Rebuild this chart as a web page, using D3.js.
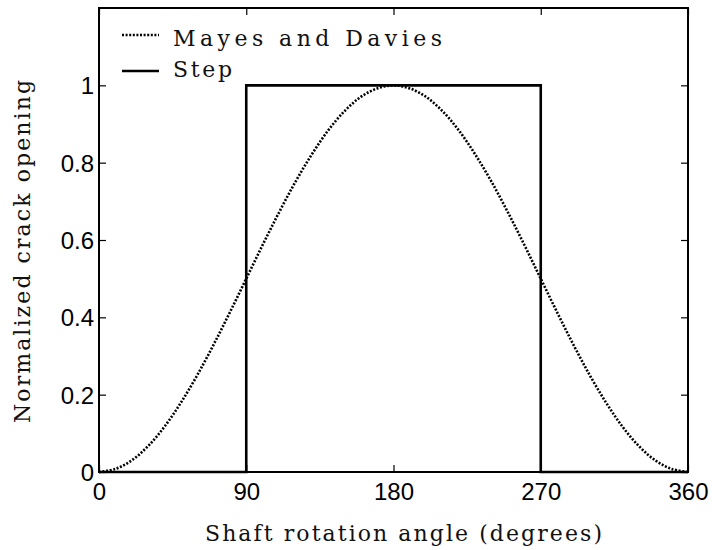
<!DOCTYPE html>
<html>
<head>
<meta charset="utf-8">
<script src="https://cdn.jsdelivr.net/npm/d3@7"></script>
<style>
  html, body { margin: 0; padding: 0; background: #fff; }
  svg { display: block; }
  .serif { font-family: "DejaVu Serif", "Liberation Serif", serif; }
</style>
</head>
<body>
<svg id="chart" width="712" height="550"></svg>
<script>
// ---- data ----
const angleTicks = [0, 90, 180, 270, 360];
const openingTicks = [0, 0.2, 0.4, 0.6, 0.8, 1];
const mayesAngles = [0,10,20,30,40,50,60,70,80,90,100,110,120,130,140,150,160,170,180,
  190,200,210,220,230,240,250,260,270,280,290,300,310,320,330,340,350,360];
const mayesValues = [0,0.008,0.030,0.067,0.117,0.179,0.250,0.329,0.413,0.500,0.587,0.671,0.750,0.821,0.883,0.933,0.970,0.992,1.000,
  0.992,0.970,0.933,0.883,0.821,0.750,0.671,0.587,0.500,0.413,0.329,0.250,0.179,0.117,0.067,0.030,0.008,0];
const stepAngles = [0, 90, 90, 270, 270, 360];
const stepValues = [0, 0, 1, 1, 0, 0];
const seriesNames = ["Mayes and Davies", "Step"];
const xLabel = "Shaft rotation angle (degrees)";
const yLabel = "Normalized crack opening";

// ---- layout ----
const svg = d3.select("#chart");
const L = 99, R = 688, T = 8, B = 472;
const x = d3.scaleLinear().domain([0, 360]).range([L, R]);
const y = d3.scaleLinear().domain([0, 1.2]).range([B, T]);
const sans = "'Liberation Sans', Arial, Helvetica, sans-serif";
const dotted = "2,1.6";

// lines
const line = d3.line().x(d => x(d[0])).y(d => y(d[1]));
const mayes = mayesAngles.map((a, i) => [a, mayesValues[i]]);
const step = stepAngles.map((a, i) => [a, stepValues[i]]);

svg.append("path").datum(mayes)
  .attr("d", d3.line().x(d => x(d[0])).y(d => y(d[1])).curve(d3.curveCatmullRom))
  .attr("fill", "none").attr("stroke", "#000")
  .attr("stroke-width", 2.6).attr("stroke-dasharray", dotted);

svg.append("path").datum(step)
  .attr("d", line)
  .attr("fill", "none").attr("stroke", "#000")
  .attr("stroke-width", 2.6).attr("stroke-linejoin", "miter");

// axes (ticks inward on all sides)
const tickLen = 7;
const gx = svg.append("g").attr("transform", `translate(0,${B})`)
  .call(d3.axisBottom(x).tickValues(angleTicks).tickSize(-tickLen).tickFormat(d3.format("d")));
const gxt = svg.append("g").attr("transform", `translate(0,${T})`)
  .call(d3.axisTop(x).tickValues(angleTicks).tickSize(-tickLen).tickFormat(""));
const gy = svg.append("g").attr("transform", `translate(${L},0)`)
  .call(d3.axisLeft(y).tickValues(openingTicks).tickSize(-tickLen).tickPadding(5)
    .tickFormat(d => d === 0 || d === 1 ? d3.format("d")(d) : d3.format(".1f")(d)));
const gyr = svg.append("g").attr("transform", `translate(${R},0)`)
  .call(d3.axisRight(y).tickValues(openingTicks).tickSize(-tickLen).tickFormat(""));

[gx, gxt, gy, gyr].forEach(g => {
  g.select(".domain").remove();
  g.selectAll(".tick line").attr("stroke", "#000").attr("stroke-width", 1.2);
  g.selectAll("text").attr("font-family", sans).attr("font-size", 24).attr("fill", "#000");
});
gx.selectAll("text").attr("dy", null).attr("y", 28);
gy.selectAll("text").attr("dy", "0.36em");

// frame
svg.append("rect").attr("x", L).attr("y", T).attr("width", R - L).attr("height", B - T)
  .attr("fill", "none").attr("stroke", "#000").attr("stroke-width", 2);

// axis labels
svg.append("text").attr("class", "serif").attr("x", 205).attr("y", 541)
  .style("font-size", "22px").attr("fill", "#111")
  .attr("textLength", 397).attr("lengthAdjust", "spacing")
  .text(xLabel);
svg.append("text").attr("class", "serif").attr("transform", "translate(30,423) rotate(-90)")
  .style("font-size", "22px").attr("fill", "#111")
  .attr("textLength", 343).attr("lengthAdjust", "spacing")
  .text(yLabel);

// legend
const leg = svg.append("g");
leg.append("line").attr("x1", 122).attr("x2", 159).attr("y1", 35).attr("y2", 35)
  .attr("stroke", "#000").attr("stroke-width", 2.6).attr("stroke-dasharray", dotted);
leg.append("line").attr("x1", 122).attr("x2", 159).attr("y1", 71).attr("y2", 71)
  .attr("stroke", "#000").attr("stroke-width", 2.6);
leg.append("text").attr("class", "serif").attr("x", 173).attr("y", 46).style("font-size", "22px").attr("fill", "#111")
  .attr("textLength", 269).attr("lengthAdjust", "spacing").text(seriesNames[0]);
leg.append("text").attr("class", "serif").attr("x", 173).attr("y", 77).style("font-size", "22px").attr("fill", "#111")
  .attr("textLength", 59).attr("lengthAdjust", "spacing").text(seriesNames[1]);
</script>
</body>
</html>
